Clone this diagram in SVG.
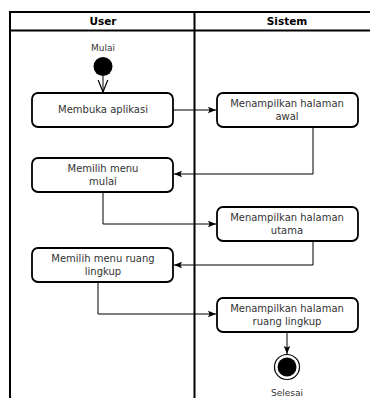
<svg xmlns="http://www.w3.org/2000/svg" width="370" height="398" viewBox="0 0 370 398">
<style>
.lane{fill:none;stroke:#000;stroke-width:2}
.box{fill:#fff;stroke:#000;stroke-width:1.8}
.t{font-family:"DejaVu Sans",Verdana,sans-serif;font-size:10px;fill:#333;text-anchor:middle}
.h{font-family:"DejaVu Sans",Verdana,sans-serif;font-size:10.5px;font-weight:bold;fill:#000;text-anchor:middle}
.c{fill:none;stroke:#000;stroke-width:1}
</style>
<defs>
<marker id="fa" viewBox="0 0 10 10" refX="10" refY="5" markerWidth="8" markerHeight="8" markerUnits="userSpaceOnUse" orient="auto">
<path d="M0,1 L10,5 L0,9 L2,5 Z" fill="#000"/>
</marker>
<marker id="oa" viewBox="0 0 10 10" refX="10" refY="5" markerWidth="12" markerHeight="12" markerUnits="userSpaceOnUse" orient="auto">
<path d="M0,1 L10,5 L0,9" fill="none" stroke="#000" stroke-width="1"/>
</marker>
</defs>
<rect width="370" height="398" fill="#fff"/>
<g id="pool">
<path class="lane" d="M10,400 V12 H372 M10,30.5 H372 M194.5,12 V400"/>
<text class="h" x="103" y="25">User</text>
<text class="h" x="287" y="25">Sistem</text>
</g>
<g id="connectors">
<path class="c" d="M103,76 V92" marker-end="url(#oa)"/>
<path class="c" d="M173,110 H216" marker-end="url(#fa)"/>
<path class="c" d="M313,127 V174 H174" marker-end="url(#fa)"/>
<path class="c" d="M103,192 V224 H216" marker-end="url(#fa)"/>
<path class="c" d="M313,240 V265 H174" marker-end="url(#fa)"/>
<path class="c" d="M98,282 V314 H216" marker-end="url(#fa)"/>
<path class="c" d="M287,331 V354" marker-end="url(#fa)"/>
</g>
<g id="start">
<text class="t" x="103" y="51" style="font-size:9px">Mulai</text>
<circle cx="103" cy="66.5" r="9.5" fill="#000"/>
</g>
<g id="n1">
<rect class="box" x="32" y="93" width="141" height="34" rx="6"/>
<text class="t" x="103" y="113">Membuka aplikasi</text>
</g>
<g id="n2">
<rect class="box" x="217" y="93" width="141" height="34" rx="6"/>
<text class="t" x="287" y="107">Menampilkan halaman</text>
<text class="t" x="287" y="120">awal</text>
</g>
<g id="n3">
<rect class="box" x="32" y="158" width="141" height="34" rx="6"/>
<text class="t" x="103" y="172">Memilih menu</text>
<text class="t" x="103" y="185">mulai</text>
</g>
<g id="n4">
<rect class="box" x="217" y="207" width="141" height="34" rx="6"/>
<text class="t" x="287" y="221">Menampilkan halaman</text>
<text class="t" x="287" y="234">utama</text>
</g>
<g id="n5">
<rect class="box" x="32" y="248" width="141" height="34" rx="6"/>
<text class="t" x="103" y="262">Memilih menu ruang</text>
<text class="t" x="103" y="275">lingkup</text>
</g>
<g id="n6">
<rect class="box" x="217" y="298" width="141" height="34" rx="6"/>
<text class="t" x="287" y="312">Menampilkan halaman</text>
<text class="t" x="287" y="325">ruang lingkup</text>
</g>
<g id="end">
<circle cx="287" cy="367" r="12.5" fill="#fff" stroke="#000" stroke-width="1.2"/>
<circle cx="287" cy="367" r="9.5" fill="#000"/>
<text class="t" x="287" y="396" style="font-size:9px">Selesai</text>
</g>
</svg>
